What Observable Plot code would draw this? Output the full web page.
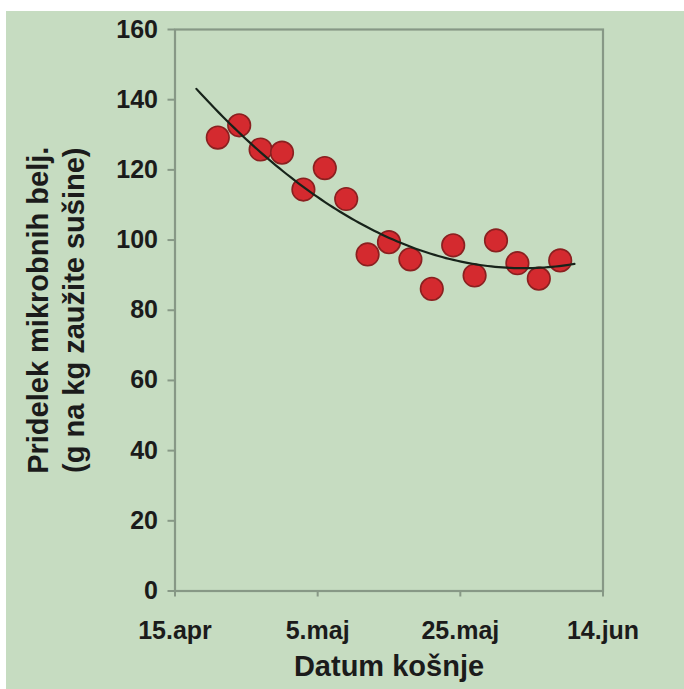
<!DOCTYPE html>
<html><head><meta charset="utf-8">
<script src="https://cdn.jsdelivr.net/npm/d3@7"></script>
<script src="https://cdn.jsdelivr.net/npm/@observablehq/plot@0.6"></script>
<style>
html,body{margin:0;padding:0;background:#fff;}
#chart{position:absolute;left:6px;top:11px;}
</style></head><body><div id="chart"></div>
<script>
// ---- data ----
const mowingDates = ["2010-04-21","2010-04-24","2010-04-27","2010-04-30","2010-05-03","2010-05-06",
  "2010-05-09","2010-05-12","2010-05-15","2010-05-18","2010-05-21","2010-05-24","2010-05-27",
  "2010-05-30","2010-06-02","2010-06-05","2010-06-08"];
const proteinYield = [129.2,132.7,125.8,124.9,114.4,120.5,111.7,95.9,99.4,94.5,86.1,98.5,89.9,99.9,93.4,89.0,94.2];
const xTickDates = ["2010-04-15","2010-05-05","2010-05-25","2010-06-14"];
const xTickLabels = ["15.apr","5.maj","25.maj","14.jun"];
const yTicks = [0,20,40,60,80,100,120,140,160];
const trendRange = ["2010-04-18","2010-06-10"]; // trendline forecast extent
const yTitle = "Pridelek mikrobnih belj.\n(g na kg zaužite sušine)";
const xTitle = "Datum košnje";

const parse = d3.utcParse("%Y-%m-%d");
const data = mowingDates.map((d,i)=>({date: parse(d), value: proteinYield[i]}));
const tickDates = xTickDates.map(parse);

// quadratic least-squares trendline (like Excel's polynomial trendline, order 2)
const t0 = +data[0].date, DAY = 864e5;
const xs = data.map(d => (+d.date - t0)/DAY), ys = data.map(d => d.value);
function quadFit(xs, ys){
  let S=[0,0,0,0,0], T=[0,0,0];
  xs.forEach((x,i)=>{ let p=1; for(let k=0;k<5;k++){S[k]+=p; if(k<3) T[k]+=p*ys[i]; p*=x;} });
  const A=[[S[0],S[1],S[2],T[0]],[S[1],S[2],S[3],T[1]],[S[2],S[3],S[4],T[2]]];
  for(let c=0;c<3;c++){ for(let r=c+1;r<3;r++){ const f=A[r][c]/A[c][c]; for(let k=c;k<4;k++) A[r][k]-=f*A[c][k]; } }
  const b=[0,0,0];
  for(let r=2;r>=0;r--){ let s=A[r][3]; for(let k=r+1;k<3;k++) s-=A[r][k]*b[k]; b[r]=s/A[r][r]; }
  return b;
}
const coef = quadFit(xs, ys);
const tStart = (+parse(trendRange[0]) - t0)/DAY, tEnd = (+parse(trendRange[1]) - t0)/DAY;
const trend = d3.range(0, 101).map(i => {
  const x = tStart + (tEnd - tStart)*i/100;
  return {date: new Date(t0 + x*DAY), value: coef[0] + coef[1]*x + coef[2]*x*x};
});

const ink = "#1b1b1b", axisCol = "#879886";
const chart = Plot.plot({
  width: 678, height: 678,
  marginLeft: 168.5, marginRight: 81.5, marginTop: 18, marginBottom: 98.5,
  style: {background: "#c6dcc1", fontFamily: "'Liberation Sans', Arial, sans-serif", overflow: "visible"},
  x: {type: "utc", domain: [tickDates[0], tickDates[tickDates.length-1]]},
  y: {domain: [0,160]},
  marks: [
    Plot.axisY(yTicks, {tickSize: 7, tickPadding: 10, fontSize: 25, fontWeight: "bold", fill: ink, stroke: axisCol, strokeWidth: 2, label: null}),
    Plot.axisX(tickDates, {tickSize: 6, tickPadding: 24.5, fontSize: 25, fontWeight: "bold", fill: ink, stroke: axisCol, strokeWidth: 2, label: null,
      tickFormat: d => xTickLabels[tickDates.findIndex(t => +t === +d)]}),
    Plot.frame({stroke: axisCol, strokeWidth: 2.2}),
    Plot.dot(data, {x: "date", y: "value", r: 11.3, fill: "#d42a2f", stroke: "#8a2020", strokeWidth: 1.6}),
    Plot.line(trend, {x: "date", y: "value", stroke: "#17231a", strokeWidth: 2.2}),
    Plot.text([yTitle], {text: d => d, frameAnchor: "left", textAnchor: "middle", lineAnchor: "middle", dx: -120.5, rotate: -90, fontSize: 29, fontWeight: "bold", lineHeight: 1.24, fill: ink}),
    Plot.text([xTitle], {text: d => d, frameAnchor: "bottom", lineAnchor: "top", dy: 64.5, fontSize: 29, fontWeight: "bold", fill: ink})
  ]
});
document.getElementById("chart").appendChild(chart);
</script></body></html>
